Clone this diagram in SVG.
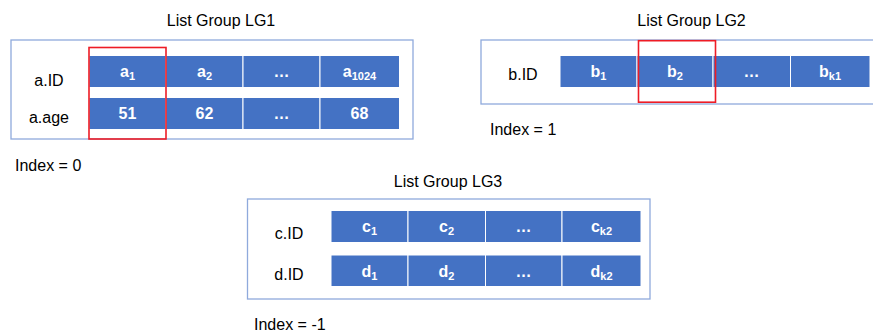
<svg xmlns="http://www.w3.org/2000/svg" width="873" height="333" viewBox="0 0 873 333">
<style>
  text { font-family: "Liberation Sans", Arial, sans-serif; font-size: 16px; fill: #000; }
  .title { text-anchor: middle; }
  .lbl { text-anchor: middle; }
  .frame { fill: #fff; stroke: #8FAADC; stroke-width: 1.3; }
  .cell { fill: #4472C4; stroke: #fff; stroke-width: 1; }
  .ct { fill: #fff; font-weight: bold; text-anchor: middle; }
  .sub { font-size: 11px; }
  .sel { fill: none; stroke: #EE1C25; stroke-width: 1.6; }
</style>
<rect width="873" height="333" fill="#fff"/>

<g id="LG1">
  <text class="title" x="221" y="26">List Group LG1</text>
  <rect class="frame" x="11" y="40" width="402" height="99"/>
  <text class="lbl" x="49" y="86">a.ID</text>
  <text class="lbl" x="49" y="123">a.age</text>
  <g id="LG1-row-ID">
    <rect class="cell" x="89" y="55.5" width="77" height="32"/>
    <rect class="cell" x="166" y="55.5" width="77" height="32"/>
    <rect class="cell" x="243" y="55.5" width="77" height="32"/>
    <rect class="cell" x="320" y="55.5" width="79.5" height="32"/>
    <text class="ct" x="127.5" y="77">a<tspan class="sub" dy="3">1</tspan></text>
    <text class="ct" x="204.5" y="77">a<tspan class="sub" dy="3">2</tspan></text>
    <text class="ct" x="281.5" y="77">…</text>
    <text class="ct" x="359.5" y="77">a<tspan class="sub" dy="3">1024</tspan></text>
  </g>
  <g id="LG1-row-age">
    <rect class="cell" x="89" y="97.5" width="77" height="32"/>
    <rect class="cell" x="166" y="97.5" width="77" height="32"/>
    <rect class="cell" x="243" y="97.5" width="77" height="32"/>
    <rect class="cell" x="320" y="97.5" width="79.5" height="32"/>
    <text class="ct" x="127.5" y="119">51</text>
    <text class="ct" x="204.5" y="119">62</text>
    <text class="ct" x="281.5" y="119">…</text>
    <text class="ct" x="359.5" y="119">68</text>
  </g>
  <rect class="sel" x="89" y="47.5" width="77" height="91.5"/>
  <text x="15" y="171">Index = 0</text>
</g>

<g id="LG2">
  <text class="title" x="691.5" y="26">List Group LG2</text>
  <rect class="frame" x="481" y="40" width="400" height="64"/>
  <text class="lbl" x="523" y="80">b.ID</text>
  <g id="LG2-row-ID">
    <rect class="cell" x="560" y="55.5" width="77" height="32"/>
    <rect class="cell" x="637" y="55.5" width="76" height="32"/>
    <rect class="cell" x="713" y="55.5" width="77.5" height="32"/>
    <rect class="cell" x="790.5" y="55.5" width="79.5" height="32"/>
    <text class="ct" x="598.5" y="77">b<tspan class="sub" dy="3">1</tspan></text>
    <text class="ct" x="675" y="77">b<tspan class="sub" dy="3">2</tspan></text>
    <text class="ct" x="751.5" y="77">…</text>
    <text class="ct" x="830" y="77">b<tspan class="sub" dy="3">k1</tspan></text>
  </g>
  <rect class="sel" x="638.5" y="40.7" width="77" height="61.5"/>
  <text x="490" y="135">Index = 1</text>
</g>

<g id="LG3">
  <text class="title" x="448" y="187">List Group LG3</text>
  <rect class="frame" x="247.5" y="199" width="402.5" height="100"/>
  <text class="lbl" x="289" y="239">c.ID</text>
  <text class="lbl" x="289" y="280">d.ID</text>
  <g id="LG3-row-c">
    <rect class="cell" x="331" y="210.5" width="77" height="32"/>
    <rect class="cell" x="408" y="210.5" width="77.5" height="32"/>
    <rect class="cell" x="485.5" y="210.5" width="76.5" height="32"/>
    <rect class="cell" x="562" y="210.5" width="79" height="32"/>
    <text class="ct" x="369.5" y="232">c<tspan class="sub" dy="3">1</tspan></text>
    <text class="ct" x="446.5" y="232">c<tspan class="sub" dy="3">2</tspan></text>
    <text class="ct" x="523.5" y="232">…</text>
    <text class="ct" x="601.5" y="232">c<tspan class="sub" dy="3">k2</tspan></text>
  </g>
  <g id="LG3-row-d">
    <rect class="cell" x="331" y="255" width="77" height="31.5"/>
    <rect class="cell" x="408" y="255" width="77.5" height="31.5"/>
    <rect class="cell" x="485.5" y="255" width="76.5" height="31.5"/>
    <rect class="cell" x="562" y="255" width="79" height="31.5"/>
    <text class="ct" x="369.5" y="276.5">d<tspan class="sub" dy="3">1</tspan></text>
    <text class="ct" x="446.5" y="276.5">d<tspan class="sub" dy="3">2</tspan></text>
    <text class="ct" x="523.5" y="276.5">…</text>
    <text class="ct" x="601.5" y="276.5">d<tspan class="sub" dy="3">k2</tspan></text>
  </g>
  <text x="254" y="330">Index = -1</text>
</g>

<g id="connectors"/>
</svg>
